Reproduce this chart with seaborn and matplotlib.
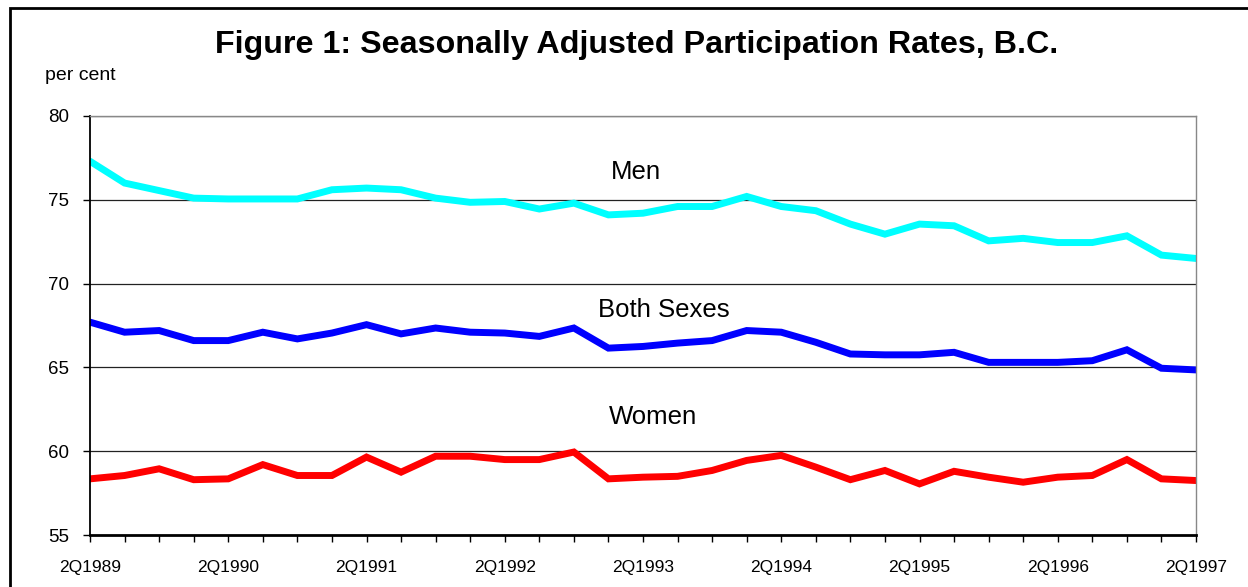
import numpy as np
import pandas as pd
import matplotlib
matplotlib.use("Agg")
import matplotlib.pyplot as plt
import seaborn as sns

# quarterly data, 2Q1989 .. 2Q1997
quarters = [f"{(q % 4) + 1}Q{1989 + (q + 1) // 4}" for q in range(1, 34)]
tick_labels = ["2Q1989", "2Q1990", "2Q1991", "2Q1992", "2Q1993",
               "2Q1994", "2Q1995", "2Q1996", "2Q1997"]

men = [77.3, 76.0, 75.55, 75.1, 75.05, 75.05, 75.05, 75.6, 75.7, 75.6, 75.1,
       74.85, 74.9, 74.45, 74.8, 74.1, 74.2, 74.6, 74.6, 75.2, 74.6, 74.35,
       73.55, 72.95, 73.55, 73.45, 72.55, 72.7, 72.45, 72.45, 72.85, 71.7, 71.5]
both = [67.7, 67.1, 67.2, 66.6, 66.6, 67.1, 66.7, 67.05, 67.55, 67.0, 67.35,
        67.1, 67.05, 66.85, 67.35, 66.15, 66.25, 66.45, 66.6, 67.2, 67.1, 66.5,
        65.8, 65.75, 65.75, 65.9, 65.3, 65.3, 65.3, 65.4, 66.05, 64.95, 64.85]
women = [58.35, 58.55, 58.95, 58.3, 58.35, 59.2, 58.55, 58.55, 59.65, 58.75,
         59.7, 59.7, 59.5, 59.5, 59.95, 58.35, 58.45, 58.5, 58.85, 59.45, 59.75,
         59.05, 58.3, 58.85, 58.05, 58.8, 58.45, 58.15, 58.45, 58.55, 59.5,
         58.35, 58.25]

series_names = ["Men", "Both Sexes", "Women"]
series_colors = ["#00FFFF", "#0000FF", "#FF0000"]
label_pos = [(15.8, 76.65), (16.6, 68.4), (16.3, 62.05)]

df = pd.DataFrame({
    "idx": list(range(len(quarters))) * 3,
    "quarter": quarters * 3,
    "rate": men + both + women,
    "series": sum([[n] * len(quarters) for n in series_names], []),
})

sns.set_style("white")
plt.rcParams["font.family"] = ["Liberation Sans", "DejaVu Sans"]
plt.rcParams["text.color"] = "black"
plt.rcParams["xtick.color"] = "black"
plt.rcParams["ytick.color"] = "black"

fig = plt.figure(figsize=(12.48, 5.87), dpi=100)
ax = fig.add_axes([90 / 1248, 1 - 535 / 587, 1106 / 1248, 419 / 587])

sns.lineplot(data=df, x="idx", y="rate", hue="series", hue_order=series_names,
             palette=series_colors, linewidth=5, legend=False, ax=ax,
             solid_capstyle="round", solid_joinstyle="miter")

ax.set_xlim(0, len(quarters) - 1)
ax.set_ylim(55, 80)
ax.set_yticks([55, 60, 65, 70, 75, 80])
ax.set_xticks(range(len(quarters)), minor=True)
ax.set_xticks(range(0, len(quarters), 4))
ax.set_xticklabels(tick_labels)
ax.tick_params(axis="both", which="both", direction="out", length=5,
               width=1, color="black", bottom=True, left=True)
ax.tick_params(axis="x", labelsize=12.5, pad=13)
ax.tick_params(axis="y", labelsize=13.5, pad=10)
ax.set_xlabel("")
ax.set_ylabel("")

for v in [60, 65, 70, 75, 80]:
    ax.axhline(v, color="#222222", lw=0.9, zorder=0)

for side in ["top", "right"]:
    ax.spines[side].set_color("#888888")
    ax.spines[side].set_linewidth(1)
ax.spines["left"].set_color("black")
ax.spines["left"].set_linewidth(1.3)
ax.spines["bottom"].set_color("black")
ax.spines["bottom"].set_linewidth(2)

for name, (x, y) in zip(series_names, label_pos):
    ax.text(x, y, name, ha="center", va="center", fontsize=18.5)

fig.text(637 / 1248, 1 - 45 / 587,
         "Figure 1: Seasonally Adjusted Participation Rates, B.C.",
         ha="center", va="center", fontsize=23.2, fontweight="bold")
fig.text(45 / 1248, 1 - 76 / 587, "per cent", ha="left", va="center",
         fontsize=14)

# outer chart frame
fig.patches.append(plt.Rectangle((10 / 1248, -0.1), 1.2, 1 - 8 / 587 + 0.1,
                                 transform=fig.transFigure, fill=False,
                                 edgecolor="black", linewidth=2))

fig.savefig("out.png", dpi=100)
